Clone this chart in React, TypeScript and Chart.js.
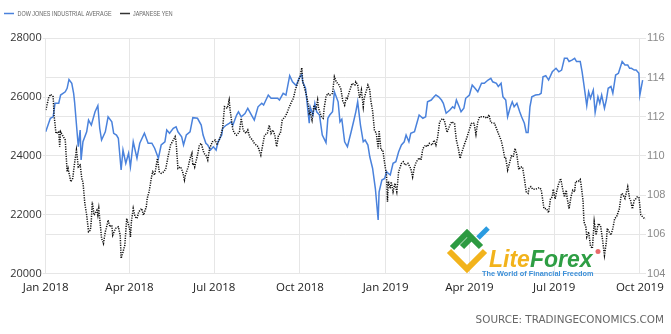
import React, { useEffect, useRef } from 'react';
import { Chart, registerables } from 'chart.js';

Chart.register(...registerables);

// x positions are days since 1 Jan 2018
const xTickDays = [0, 90, 181, 273, 365, 455, 546, 638];
const xTickLabels = ['Jan 2018', 'Apr 2018', 'Jul 2018', 'Oct 2018', 'Jan 2019', 'Apr 2019', 'Jul 2019', 'Oct 2019'];
const xMaxDay = 644.2;

const dowLabel = 'DOW JONES INDUSTRIAL AVERAGE';
const jpyLabel = 'JAPANESE YEN';
const sourceText = 'SOURCE: TRADINGECONOMICS.COM';

const dowDays = [
  0, 5, 8, 10, 14, 16, 21, 23, 25, 28,
  30, 31, 35, 37, 38, 40, 44, 46, 49, 53,
  56, 58, 60, 64, 67, 71, 73, 76, 78, 81,
  83, 86, 89, 91, 94, 98, 101, 106, 110, 114,
  117, 121, 124, 128, 130, 133, 137, 140, 142, 146,
  148, 151, 155, 158, 163, 167, 169, 172, 174, 177,
  180, 183, 185, 189, 190, 194, 197, 199, 201, 205,
  207, 210, 214, 217, 221, 224, 228, 232, 234, 239,
  242, 246, 249, 251, 255, 258, 262, 265, 269, 272,
  275, 276, 279, 283, 284, 287, 289, 291, 294, 297,
  301, 303, 305, 308, 310, 314, 316, 318, 321, 324,
  328, 331, 333, 335, 338, 341, 343, 346, 348, 351,
  354, 357, 358, 361, 364, 366, 368, 370, 373, 376,
  379, 382, 385, 387, 390, 392, 396, 398, 401, 405,
  408, 410, 414, 417, 419, 422, 425, 427, 430, 434,
  437, 439, 441, 444, 446, 449, 451, 455, 458, 461,
  464, 468, 471, 475, 478, 480, 484, 486, 489, 491,
  494, 496, 499, 501, 503, 506, 509, 511, 514, 516,
  518, 520, 522, 526, 530, 532, 534, 537, 540, 544,
  548, 551, 554, 557, 560, 562, 565, 568, 570, 574,
  576, 578, 581, 583, 585, 588, 590, 593, 595, 597,
  600, 602, 604, 607, 609, 612, 615, 619, 622, 625,
  627, 629, 632, 634, 637, 638, 641,
];

const dowValues = [
  24820, 25280, 25330, 25790, 25790, 26070, 26180, 26300, 26600, 26470,
  26130, 25840, 24310, 24880, 23860, 24480, 24820, 25220, 25050, 25500,
  25710, 24940, 24540, 24820, 25330, 25160, 24770, 24710, 24600, 23520,
  24200, 23750, 24090, 23630, 24480, 23920, 24430, 24770, 24430, 24430,
  24260, 23920, 24370, 24480, 24880, 24770, 24940, 24990, 24820, 24650,
  24370, 24710, 24820, 25300, 25280, 25050, 24710, 24430, 24370, 24200,
  24310, 24200, 24480, 24710, 24940, 25050, 25110, 25160, 25050, 25390,
  25500, 25330, 25440, 25620, 25390, 25220, 25670, 25790, 25730, 26070,
  25960, 25960, 25960, 25900, 26130, 26070, 26730, 26520, 26390, 26640,
  26770, 26520, 26300, 25110, 25670, 25390, 25790, 25500, 25390, 24710,
  24450, 25280, 25390, 25500, 26180, 25840, 25160, 25250, 24480, 24310,
  24820, 25220, 25500, 25840, 25050, 24480, 24540, 24370, 23970, 23580,
  22890, 21820, 22780, 23180, 23230, 23460, 23400, 23350, 23750, 23800,
  24140, 24370, 24480, 24710, 24480, 24770, 24820, 25050, 25390, 25280,
  25330, 25840, 25900, 26010, 26070, 26010, 25900, 25790, 25450, 25560,
  25670, 25620, 25900, 25670, 25500, 25620, 25960, 26070, 26410, 26300,
  26180, 26470, 26470, 26580, 26640, 26520, 26470, 26360, 26470, 26010,
  25900, 25330, 25670, 25840, 25670, 25790, 25500, 25330, 25110, 24800,
  24800, 25670, 26010, 26070, 26090, 26130, 26690, 26730, 26580, 26860,
  26980, 26860, 26920, 27320, 27320, 27210, 27260, 27320, 27210, 27210,
  26860, 26410, 25710, 26180, 25960, 26240, 25480, 26010, 25790, 26070,
  25620, 25900, 26300, 26360, 26130, 26750, 26810, 27210, 27090, 27090,
  26980, 26980, 26920, 26920, 26810, 26070, 26580,
];

const jpyDays = [
  0, 1, 3, 5, 8, 9, 11, 14, 15, 16,
  18, 21, 23, 24, 27, 29, 31, 33, 35, 37,
  39, 40, 42, 44, 46, 48, 49, 50, 52, 55,
  56, 57, 60, 62, 64, 65, 67, 69, 71, 72,
  75, 78, 80, 81, 83, 85, 87, 90, 91, 92,
  94, 96, 98, 100, 103, 105, 108, 109, 111, 114,
  115, 117, 120, 122, 124, 127, 129, 131, 134, 136,
  139, 140, 142, 145, 147, 149, 150, 153, 155, 157,
  158, 159, 160, 163, 165, 167, 170, 172, 174, 176,
  179, 182, 184, 187, 190, 192, 195, 197, 198, 201,
  203, 205, 208, 210, 212, 215, 217, 219, 222, 224,
  228, 231, 233, 235, 238, 240, 242, 244, 246, 248,
  250, 252, 254, 257, 259, 261, 264, 266, 268, 271,
  273, 275, 276, 278, 280, 282, 283, 284, 286, 288,
  290, 292, 293, 296, 298, 299, 301, 303, 305, 308,
  310, 312, 315, 317, 319, 321, 323, 324, 326, 329,
  332, 333, 335, 337, 339, 341, 342, 344, 346, 348,
  349, 351, 353, 355, 357, 358, 360, 362, 364, 366,
  367, 368, 370, 371, 373, 375, 377, 379, 382, 384,
  386, 389, 391, 392, 394, 396, 398, 401, 403, 405,
  408, 410, 412, 415, 417, 419, 421, 423, 426, 428,
  431, 434, 436, 439, 441, 443, 445, 447, 450, 452,
  454, 457, 459, 460, 462, 464, 466, 469, 471, 474,
  476, 478, 482, 484, 486, 489, 491, 493, 494, 496,
  498, 500, 502, 504, 506, 508, 510, 512, 514, 516,
  518, 519, 521, 523, 526, 530, 532, 534, 535, 538,
  540, 542, 544, 545, 547, 549, 551, 553, 555, 557,
  559, 560, 562, 564, 566, 568, 569, 572, 574, 575,
  577, 578, 580, 581, 583, 585, 587, 588, 589, 591,
  593, 594, 596, 598, 600, 602, 603, 605, 607, 609,
  611, 613, 616, 618, 619, 622, 625, 627, 628, 630,
  632, 634, 635, 637, 639, 641, 644,
];

const jpyValues = [
  112.34, 112.51, 112.94, 113.14, 113.02, 112.08, 111.15, 111.23, 110.47, 111.23,
  111.06, 110.81, 109.19, 109.36, 108.68, 108.85, 109.62, 110.30, 109.44, 109.53,
  108.77, 108.68, 107.58, 106.98, 106.13, 106.21, 106.72, 107.66, 106.98, 107.23,
  106.98, 107.32, 105.79, 105.53, 106.13, 106.30, 106.72, 106.38, 106.47, 105.96,
  106.30, 106.38, 105.96, 104.77, 105.10, 105.45, 106.81, 106.30, 105.87, 106.64,
  107.32, 106.89, 106.81, 107.15, 107.32, 106.98, 107.40, 107.83, 108.17, 109.02,
  109.19, 109.02, 109.87, 109.19, 109.11, 109.19, 109.36, 109.87, 110.55, 110.72,
  110.98, 110.72, 109.36, 109.44, 109.19, 108.77, 109.02, 109.44, 109.87, 110.13,
  109.53, 109.62, 109.44, 110.04, 110.55, 110.64, 110.13, 110.04, 109.79, 110.38,
  110.72, 110.81, 110.55, 110.89, 111.40, 112.51, 112.43, 112.85, 112.34, 111.32,
  111.15, 111.06, 111.23, 111.92, 111.32, 111.15, 111.32, 110.98, 110.81, 110.64,
  110.47, 110.04, 110.55, 111.06, 111.15, 111.57, 111.15, 111.32, 111.06, 110.47,
  111.06, 111.15, 111.83, 112.00, 112.17, 112.43, 112.76, 112.94, 113.36, 113.78,
  114.04, 114.50, 113.78, 113.45, 113.10, 112.59, 112.17, 112.25, 111.83, 112.59,
  112.34, 112.85, 112.43, 112.00, 111.92, 112.43, 113.02, 113.19, 113.10, 113.19,
  114.04, 113.78, 113.62, 113.40, 112.80, 112.59, 113.00, 112.94, 113.27, 113.70,
  113.62, 113.78, 113.62, 112.94, 113.36, 112.51, 112.94, 113.27, 113.61, 113.36,
  112.85, 112.30, 111.32, 111.15, 110.38, 111.30, 110.30, 110.30, 109.62, 109.00,
  107.66, 108.70, 108.34, 108.68, 108.17, 108.60, 108.17, 109.20, 109.62, 109.70,
  109.53, 109.62, 109.44, 109.36, 108.93, 109.44, 109.70, 109.90, 109.79, 110.38,
  110.55, 110.47, 110.64, 110.55, 110.80, 110.55, 110.98, 111.74, 111.90, 111.83,
  111.20, 111.57, 111.74, 111.65, 110.80, 110.40, 109.87, 110.21, 110.64, 110.89,
  111.20, 111.65, 111.70, 111.65, 111.10, 111.74, 112.00, 112.00, 112.00, 111.92,
  112.10, 111.70, 111.66, 111.40, 111.15, 110.80, 110.40, 109.87, 109.87, 109.28,
  109.62, 110.00, 109.95, 110.38, 110.04, 109.30, 109.44, 109.44, 108.85, 108.17,
  108.09, 108.34, 108.43, 108.30, 108.30, 108.38, 108.30, 107.66, 107.32, 107.30,
  107.10, 107.80, 107.91, 108.30, 107.80, 108.25, 108.60, 108.85, 108.34, 107.90,
  108.25, 107.83, 107.30, 107.90, 108.25, 108.17, 108.70, 108.70, 108.80, 108.50,
  107.70, 106.64, 106.38, 105.87, 106.13, 105.40, 105.28, 105.96, 106.65, 105.96,
  106.47, 106.55, 106.38, 105.70, 104.93, 105.61, 106.30, 106.13, 105.96, 106.30,
  106.81, 106.89, 107.30, 108.00, 108.09, 107.83, 108.42, 107.83, 107.74, 107.30,
  107.74, 107.83, 107.90, 107.90, 107.00, 106.89, 106.77,
];

const BLUE = '#4a82dc';
const BLACK = '#111111';
const GRID = '#e6e6e6';

const decorPlugin = {
  id: 'decor',
  afterDraw(chart: any) {
    const ctx: CanvasRenderingContext2D = chart.ctx;
    ctx.save();
    // legend
    ctx.lineWidth = 1.5;
    ctx.strokeStyle = BLUE;
    ctx.beginPath();
    ctx.moveTo(4, 13.5);
    ctx.lineTo(14, 13.5);
    ctx.stroke();
    ctx.strokeStyle = '#333';
    ctx.beginPath();
    ctx.moveTo(120, 13.5);
    ctx.lineTo(130, 13.5);
    ctx.stroke();
    ctx.font = '7px "Liberation Sans", Arial, sans-serif';
    ctx.fillStyle = '#666';
    ctx.textAlign = 'left';
    ctx.textBaseline = 'alphabetic';
    ctx.fillText(dowLabel, 17.5, 16, 94);
    ctx.fillText(jpyLabel, 133, 16, 39.7);

    // source
    ctx.font = '10.4px "DejaVu Sans", sans-serif';
    ctx.fillStyle = '#666';
    ctx.textAlign = 'right';
    ctx.fillText(sourceText, 664, 323, 190);

    // logo mark
    ctx.lineCap = 'butt';
    ctx.lineJoin = 'miter';
    ctx.lineWidth = 6;
    ctx.strokeStyle = '#f2b31c';
    ctx.beginPath();
    ctx.moveTo(449, 251);
    ctx.lineTo(467, 269);
    ctx.lineTo(485, 251);
    ctx.stroke();
    ctx.strokeStyle = '#2d9a41';
    ctx.beginPath();
    ctx.moveTo(452, 248);
    ctx.lineTo(467, 233);
    ctx.lineTo(481, 247);
    ctx.stroke();
    ctx.beginPath();
    ctx.moveTo(462, 247);
    ctx.lineTo(472, 237);
    ctx.stroke();
    ctx.strokeStyle = '#2b9be0';
    ctx.lineWidth = 5;
    ctx.beginPath();
    ctx.moveTo(478, 238);
    ctx.lineTo(488, 228);
    ctx.stroke();

    // logo text
    ctx.textAlign = 'left';
    ctx.font = 'italic bold 23px "Liberation Sans", Arial, sans-serif';
    ctx.fillStyle = '#f2b31c';
    ctx.fillText('Lite', 489, 267);
    const w = ctx.measureText('Lite').width;
    ctx.fillStyle = '#2e9e44';
    ctx.fillText('Forex', 489 + w, 267);
    ctx.fillStyle = '#e86a6a';
    ctx.beginPath();
    ctx.arc(598, 251.5, 2.5, 0, Math.PI * 2);
    ctx.fill();
    ctx.font = 'bold 7.5px "Liberation Sans", Arial, sans-serif';
    ctx.fillStyle = '#3b8fd8';
    ctx.fillText('The World of Financial Freedom', 482, 275.5, 111.5);
    ctx.restore();
  },
};

export default function App() {
  const ref = useRef<HTMLCanvasElement | null>(null);

  useEffect(() => {
    if (!ref.current) return;
    const dowData = dowDays.map((d, i) => ({ x: d, y: dowValues[i] }));
    const jpyData = jpyDays.map((d, i) => ({ x: d, y: jpyValues[i] }));
    const chart = new Chart(ref.current, {
      type: 'line',
      data: {
        datasets: [
          {
            label: jpyLabel,
            data: jpyData,
            yAxisID: 'y1',
            borderColor: BLACK,
            borderWidth: 1.5,
            borderDash: [1.2, 1.2],
            pointRadius: 0,
            tension: 0,
            fill: false,
            order: 0,
          },
          {
            label: dowLabel,
            data: dowData,
            yAxisID: 'y',
            borderColor: BLUE,
            borderWidth: 1.5,
            pointRadius: 0,
            tension: 0,
            fill: false,
            order: 1,
          },
        ],
      },
      options: {
        responsive: false,
        animation: false,
        events: [],
        layout: { padding: { top: 38.3, left: 0, right: 0, bottom: 0 } },
        plugins: {
          legend: { display: false },
          tooltip: { enabled: false },
        },
        scales: {
          x: {
            type: 'linear',
            min: 0,
            max: xMaxDay,
            afterBuildTicks: (axis: any) => {
              axis.ticks = xTickDays.map((v) => ({ value: v }));
            },
            afterFit: (scale: any) => {
              scale.height = 60.5;
            },
            grid: { color: GRID, drawTicks: false, lineWidth: 1 },
            border: { display: false },
            ticks: {
              autoSkip: false,
              maxRotation: 0,
              padding: 7,
              color: '#222',
              font: { family: '"Open Sans", sans-serif', size: 11.5 },
              callback: (v: any) => {
                const i = xTickDays.indexOf(Number(v));
                return i >= 0 ? xTickLabels[i] : '';
              },
            },
          },
          y: {
            position: 'left',
            min: 20000,
            max: 28000,
            afterFit: (scale: any) => {
              scale.width = 45.7;
            },
            grid: { color: GRID, tickLength: 3 },
            border: { display: false },
            ticks: {
              stepSize: 2000,
              padding: 1,
              color: '#333',
              font: { family: '"Open Sans", sans-serif', size: 11 },
              callback: (v: any) => String(v),
            },
          },
          y1: {
            position: 'right',
            min: 104,
            max: 116,
            afterFit: (scale: any) => {
              scale.width = 24.5;
            },
            grid: { color: GRID, drawTicks: false },
            border: { display: false },
            ticks: {
              stepSize: 2,
              padding: 1.5,
              color: '#8a8a8a',
              font: { family: '"Liberation Sans Narrow", "Liberation Sans", sans-serif', size: 11 },
              callback: (v: any) => String(v),
            },
          },
        },
      },
      plugins: [decorPlugin],
    });
    return () => chart.destroy();
  }, []);

  return (
    <div style={{ position: 'fixed', left: 0, top: 0, width: 671, height: 334, background: '#fff' }}>
      <canvas ref={ref} width={671} height={334} style={{ display: 'block' }} />
    </div>
  );
}
